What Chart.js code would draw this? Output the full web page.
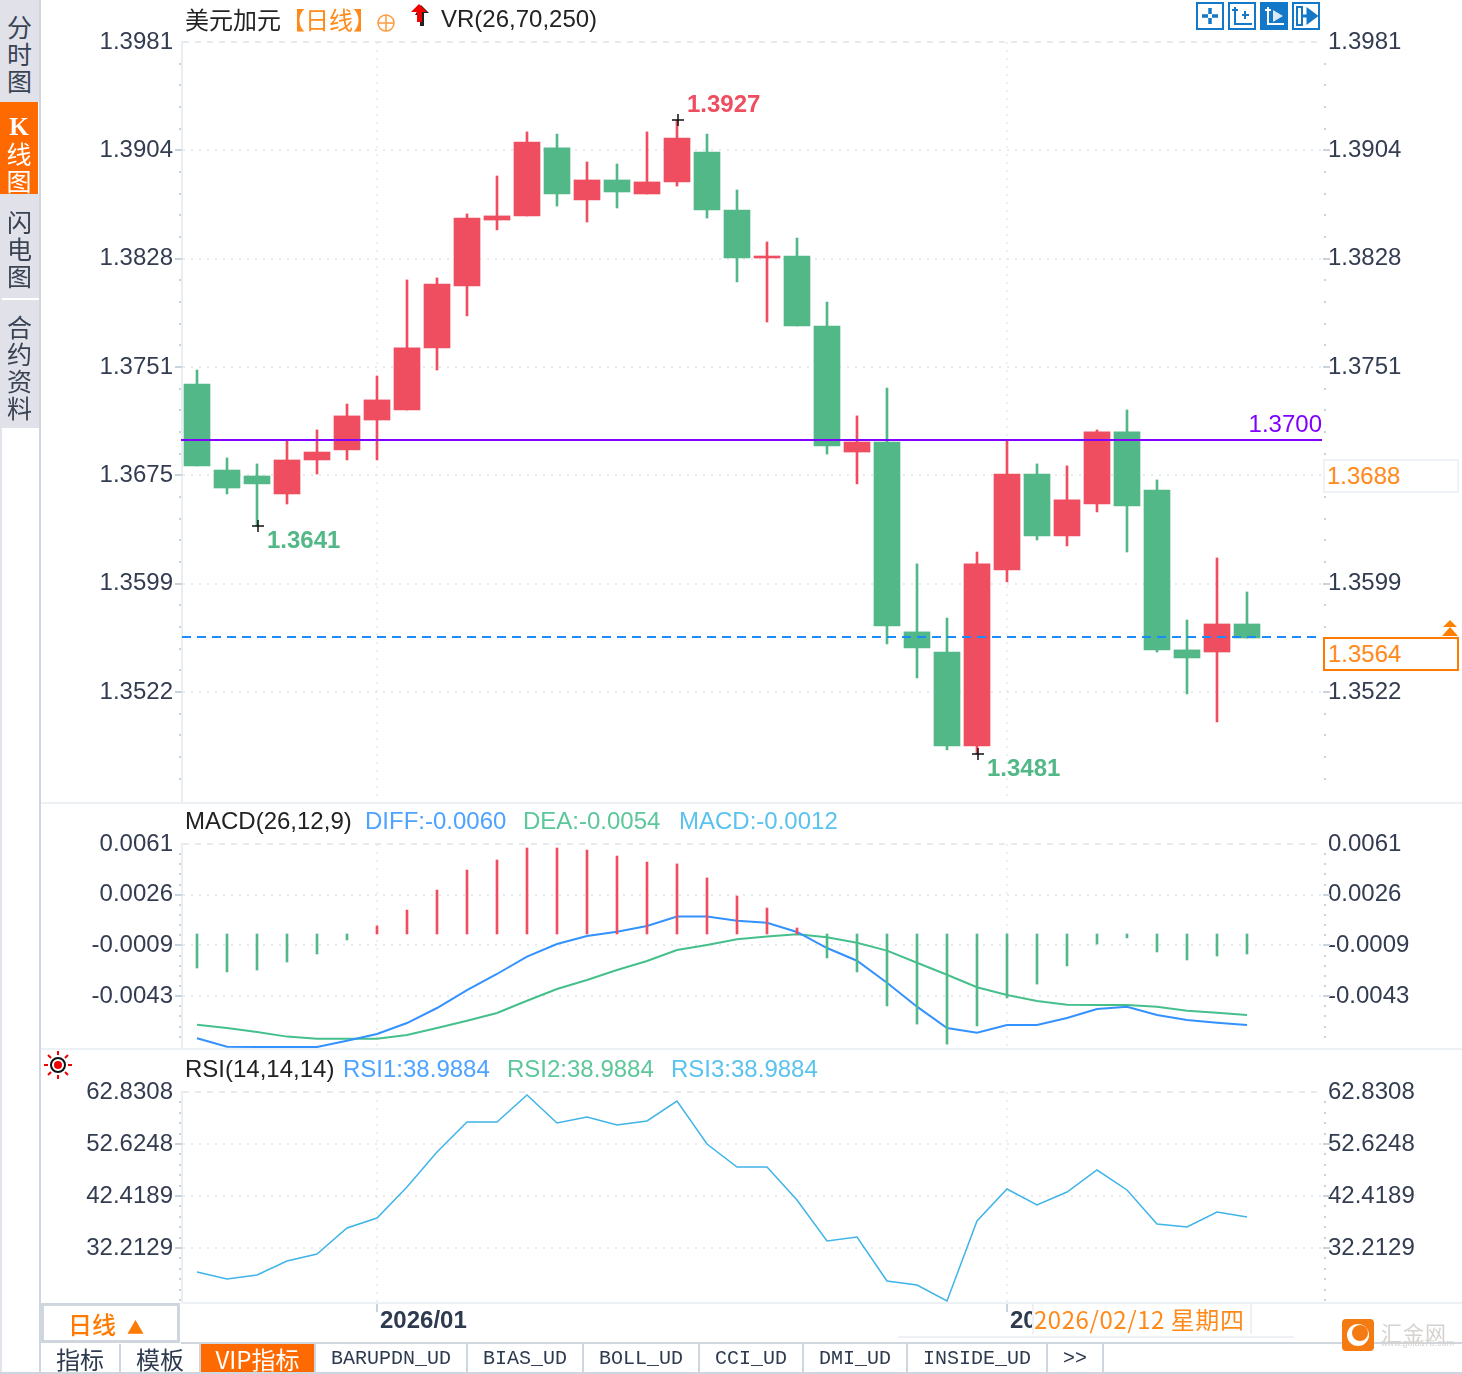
<!DOCTYPE html>
<html>
<head>
<meta charset="utf-8">
<script src="https://cdn.jsdelivr.net/npm/chart.js@4"></script>
<style>
html, body { margin: 0; padding: 0; background: #fff; }
#page { position: relative; width: 1462px; height: 1374px; overflow: hidden; font-family: "Liberation Sans", Arial, sans-serif; font-size: 24px; color: #222; }
canvas { position: absolute; left: 0; }
.t { position: absolute; white-space: nowrap; line-height: 28px; }
.cjk { font-family: "Noto Sans CJK SC", sans-serif; }
.line { position: absolute; background: #edf1f5; }
.side { position: absolute; left: 0; width: 39px; background: #e0e1e9; color: #3a4354; font-family: "Noto Sans CJK SC", sans-serif; font-size: 25px; line-height: 27px; text-align: center; padding-left: 0; box-sizing: border-box; }
.tab { position: absolute; top: 1344px; height: 30px; line-height: 29px; text-align: center; border-right: 2px solid #cfd6dd; box-sizing: border-box; color: #2d3a4f; font-family: "Liberation Mono", monospace; font-size: 20px; }
.tab.cn { font-family: "Noto Sans CJK SC", sans-serif; font-size: 24px; }
svg { position: absolute; overflow: visible; }
</style>
</head>
<body>
<div id="page">
  <canvas id="main" width="1462" height="802" style="top:0"></canvas>
  <canvas id="macd" width="1462" height="245" style="top:803px"></canvas>
  <canvas id="rsi" width="1462" height="293" style="top:1049px"></canvas>

  <div class="line" style="left:40px;top:802px;width:1422px;height:2px"></div>
  <div class="line" style="left:40px;top:1048px;width:1422px;height:2px"></div>
  <div class="line" style="left:181px;top:1302px;width:1281px;height:2px"></div>

  <!-- left tabs -->
  <div class="line" style="left:0;top:0;width:2px;height:1374px;background:#dfe4ea"></div>
  <div class="line" style="left:39px;top:0;width:2px;height:1374px;background:#cfd6dd"></div>
  <div class="side" style="top:0;height:102px;padding-top:13px">分<br>时<br>图</div>
  <div class="side" style="top:102px;height:92px;width:38px;background:#ff6a00;color:#fff;padding-top:9px"><span style="font-family:'Liberation Serif',serif;font-weight:bold">K</span><br>线<br>图</div>
  <div class="side" style="top:194px;height:104px;padding-top:14px">闪<br>电<br>图</div>
  <div class="side" style="top:300px;height:128px;padding-top:13px">合<br>约<br>资<br>料</div>

  <!-- main panel header -->
  <div class="t cjk" style="left:185px;top:5px">美元加元<span style="color:#ff8a1a">【日线】</span></div>
  <svg style="left:376px;top:13px" width="20" height="20"><circle cx="10" cy="10" r="8" fill="none" stroke="#ff9a3c" stroke-width="1.5"/><path d="M2 10H18M10 2V18" stroke="#ff9a3c" stroke-width="1.5"/></svg>
  <svg style="left:408px;top:2px" width="24" height="26"><path d="M13 3L21 11H16V24H12V13H7Z" fill="#222"/><path d="M11 2L19 10H14V20H9V10H3Z" fill="#f00000"/></svg>
  <div class="t" style="left:441px;top:5px">VR(26,70,250)</div>

  <!-- toolbar buttons -->
  <svg style="left:1196px;top:2px" width="28" height="28"><rect x="1" y="1" width="26" height="26" fill="#fff" stroke="#1478c8" stroke-width="2"/><path d="M14 6V12M14 16V22M6 14H12M16 14H22" stroke="#1478c8" stroke-width="3.5"/></svg>
  <svg style="left:1228px;top:2px" width="28" height="28"><rect x="1" y="1" width="26" height="26" fill="#fff" stroke="#1478c8" stroke-width="2"/><path d="M7 5V22H24M4 8H10M14 13H21M17 9V17" stroke="#1478c8" stroke-width="2" fill="none"/></svg>
  <svg style="left:1260px;top:2px" width="28" height="28"><rect x="0" y="0" width="28" height="28" fill="#1478c8"/><path d="M8 5V22H24M5 8H11" stroke="#fff" stroke-width="2" fill="none"/><path d="M13 8L23 14L13 20Z" fill="#dbe9f5"/></svg>
  <svg style="left:1292px;top:2px" width="28" height="28"><rect x="1" y="1" width="26" height="26" fill="#fff" stroke="#1478c8" stroke-width="2"/><path d="M5 5H10V23H5Z" fill="none" stroke="#1478c8" stroke-width="2"/><path d="M9 14H18M16 8L24 14L16 20Z" stroke="#1478c8" stroke-width="3" fill="#1478c8"/></svg>

  <!-- right side price boxes -->
  <div class="t" style="left:1323px;top:459px;width:136px;height:34px;box-sizing:border-box;background:#fff;border:2px solid #eef1f5;padding-left:2px;line-height:30px;color:#ff8a1a">1.3688</div>
  <div class="t" style="left:1323px;top:637px;width:136px;height:34px;box-sizing:border-box;background:#fff;border:2px solid #ff7a00;padding-left:3px;line-height:30px;color:#ff8a1a">1.3564</div>
  <svg style="left:1442px;top:620px" width="16" height="16"><path d="M8 0L15 7H1ZM8 7L16 16H0Z" fill="#ff8000"/></svg>

  <!-- macd / rsi headers -->
  <div class="t" style="left:185px;top:807px">MACD(26,12,9)</div>
  <div class="t" style="left:365px;top:807px;color:#4da3ff">DIFF:-0.0060</div>
  <div class="t" style="left:523px;top:807px;color:#5cc79a">DEA:-0.0054</div>
  <div class="t" style="left:679px;top:807px;color:#59c3ee">MACD:-0.0012</div>
  <svg style="left:44px;top:1051px" width="28" height="28"><g stroke="#f00000" stroke-width="2"><path d="M14 0V4M14 24V28M0 14H4M24 14H28M4 4L7 7M21 21L24 24M24 4L21 7M4 24L7 21"/></g><circle cx="14" cy="14" r="7" fill="#fff" stroke="#111" stroke-width="2"/><circle cx="14" cy="14" r="4" fill="#f00000"/></svg>
  <div class="t" style="left:185px;top:1055px">RSI(14,14,14)</div>
  <div class="t" style="left:343px;top:1055px;color:#4da3ff">RSI1:38.9884</div>
  <div class="t" style="left:507px;top:1055px;color:#5cc79a">RSI2:38.9884</div>
  <div class="t" style="left:671px;top:1055px;color:#59c3ee">RSI3:38.9884</div>

  <!-- bottom bar -->
  <div class="t cjk" style="left:41px;top:1303px;width:139px;height:40px;box-sizing:border-box;border:3px solid #cfd6dd;padding-left:24px;line-height:36px;color:#ff7a00;font-weight:500">日线<span style="font-size:17px;margin-left:11px">▲</span></div>
  <div class="line" style="left:181px;top:1342px;width:1281px;height:2px;background:#cfd6dd"></div>
  <div class="t cjk" style="left:1032px;top:1304px;width:220px;height:30px;box-sizing:border-box;background:#fff;border-left:2px solid #edf1f5;border-right:2px solid #edf1f5;line-height:30px;letter-spacing:.55px;color:#ff8a1a">2026/02/12 星期四</div>
  <div class="line" style="left:898px;top:1336px;width:396px;height:2px"></div>

  <div class="tab cn" style="left:41px;width:80px">指标</div>
  <div class="tab cn" style="left:121px;width:80px">模板</div>
  <div class="tab cn" style="left:201px;width:115px;background:#ff6a00;color:#fff">VIP指标</div>
  <div class="tab" style="left:316px;width:152px">BARUPDN_UD</div>
  <div class="tab" style="left:468px;width:116px">BIAS_UD</div>
  <div class="tab" style="left:584px;width:116px">BOLL_UD</div>
  <div class="tab" style="left:700px;width:104px">CCI_UD</div>
  <div class="tab" style="left:804px;width:104px">DMI_UD</div>
  <div class="tab" style="left:908px;width:140px">INSIDE_UD</div>
  <div class="tab" style="left:1048px;width:56px">&gt;&gt;</div>
  <div class="line" style="left:0;top:1372px;width:1462px;height:2px;background:#cfd6dd"></div>

  <!-- watermark -->
  <svg style="left:1342px;top:1319px" width="32" height="32"><rect width="32" height="32" rx="4" fill="#f47a12"/><circle cx="16" cy="16" r="11" fill="#fff"/><circle cx="18" cy="14" r="8" fill="#f47a12"/></svg>
  <div class="t cjk" style="left:1381px;top:1318px;font-size:21px;color:#d5d2cf;letter-spacing:1px">汇金网</div>
  <div class="t" style="left:1381px;top:1337px;font-size:9px;line-height:12px;color:#d5d2cf">www.gold678.com</div>
</div>

<script>
// trading days, last one is 2026/02/12
var dates = ['2025/12/24','2025/12/25','2025/12/26','2025/12/29','2025/12/30','2025/12/31',
  '2026/01/02','2026/01/05','2026/01/06','2026/01/07','2026/01/08','2026/01/09','2026/01/12','2026/01/13','2026/01/14','2026/01/15','2026/01/16',
  '2026/01/19','2026/01/20','2026/01/21','2026/01/22','2026/01/23','2026/01/26','2026/01/27','2026/01/28','2026/01/29','2026/01/30',
  '2026/02/02','2026/02/03','2026/02/04','2026/02/05','2026/02/06','2026/02/09','2026/02/10','2026/02/11','2026/02/12'];
var emptySlots = ['', ''];
var monthIndex = [6, 27];
var monthLabels = ['2026/01', '2026/02'];

var open = [1.37395,1.36788,1.36746,1.36619,1.36859,1.3693,1.37141,1.37212,1.3765,1.38087,1.38553,1.38582,1.39062,1.38695,1.38836,1.38737,1.38822,1.39033,1.38624,1.38285,1.38299,1.37805,1.36915,1.36986,1.35645,1.35503,1.3484,1.36082,1.3676,1.36322,1.36548,1.37057,1.36647,1.35518,1.35503,1.35701];
var close = [1.36817,1.36661,1.3669,1.36859,1.36915,1.3717,1.37283,1.3765,1.38101,1.38567,1.38582,1.39104,1.38737,1.38836,1.38751,1.38822,1.39132,1.38624,1.38285,1.38299,1.37805,1.36958,1.36986,1.35687,1.35532,1.3484,1.36125,1.3676,1.36322,1.36577,1.37057,1.36534,1.35518,1.35461,1.35701,1.35602];
var high = [1.37494,1.36873,1.36831,1.37,1.37071,1.37254,1.37452,1.3813,1.38144,1.38596,1.38864,1.39175,1.3916,1.38963,1.38949,1.39175,1.39259,1.3916,1.38765,1.38398,1.38426,1.37974,1.3717,1.37367,1.36125,1.35743,1.36209,1.37,1.36831,1.36817,1.37071,1.37212,1.36718,1.35729,1.36167,1.35927];
var low = [1.36817,1.36619,1.36393,1.36548,1.3676,1.36859,1.36859,1.37212,1.37494,1.37876,1.38483,1.38582,1.38652,1.38539,1.38638,1.38737,1.38793,1.38567,1.38116,1.37833,1.37805,1.36901,1.3669,1.3556,1.3532,1.34812,1.34783,1.35998,1.36294,1.36252,1.36492,1.36209,1.35503,1.35207,1.35009,1.35602];

var priceTicks = [1.3981,1.39045,1.3828,1.37515,1.3675,1.35985,1.3522];
var priceLabels = ['1.3981','1.3904','1.3828','1.3751','1.3675','1.3599','1.3522'];
var resistance = 1.37;
var lastPrice = 1.35609;
var markIndex = [16, 2, 26];
var markLabels = ['1.3927', '1.3641', '1.3481'];

var hist = [-.00233,-.0026,-.00247,-.00192,-.00137,-.00041,.00055,.00164,.00301,.00438,.00507,.00589,.00589,.00575,.00534,.00493,.0048,.00384,.0026,.00178,.00041,-.00164,-.0026,-.00493,-.00617,-.00754,-.0063,-.00438,-.00343,-.00219,-.00069,-.00027,-.00123,-.00178,-.00151,-.00137];
var diff = [-.00714,-.00772,-.00774,-.00774,-.00774,-.00731,-.00685,-.0061,-.00507,-.00384,-.00274,-.00155,-.00069,-.00014,.00016,.00055,.00119,.00119,.00091,.00077,.00014,-.00096,-.00183,-.00334,-.00498,-.00644,-.00676,-.00623,-.00623,-.00575,-.00514,-.00498,-.00555,-.00589,-.00608,-.00623];
var dea = [-.00621,-.00644,-.00671,-.00703,-.00717,-.00717,-.00717,-.00692,-.00644,-.00594,-.00541,-.00457,-.00377,-.00315,-.00247,-.00185,-.0011,-.00075,-.00036,-.00018,-.00002,-.00023,-.0006,-.00114,-.00197,-.00279,-.00365,-.00418,-.00459,-.00484,-.00486,-.00486,-.00498,-.00525,-.00539,-.00555];
var macdTicks = [.006165,.00269,-.00078,-.00425];
var macdLabels = ['0.0061','0.0026','-0.0009','-0.0043'];

var rsi1 = [27.5,26.13,26.91,29.66,31.03,36.14,38.1,44.18,51.05,56.94,56.94,62.24,56.75,57.92,56.35,57.14,61.06,52.62,48.11,48.11,41.63,33.59,34.37,25.74,24.95,21.81,37.51,43.79,40.65,43.2,47.52,43.6,36.92,36.33,39.28,38.3];
var rsiTicks = [62.8308,52.6248,42.4189,32.2129];
var rsiLabels = ['62.8308','52.6248','42.4189','32.2129'];

var RED = '#ee4e5f', GREEN = '#53b887', AXIS = '#c9d3dc', GRID = '#e6eaee', TEXT = '#333c50';
var FONT = '"Liberation Sans", Arial, sans-serif';
var xLabels = dates.concat(emptySlots);

function yAxis(position, ticks, labels, min, max) {
    var left = position === 'left';
    return {
        position: position,
        min: min,
        max: max,
        afterBuildTicks: function (scale) { scale.ticks = ticks.map(function (v) { return { value: v }; }); },
        afterFit: function (scale) {
            scale.width = left ? 182 : 140;
            // labels must not shrink the plot area
            scale.paddingTop = 0;
            scale.paddingBottom = 0;
        },
        border: {
            display: left,
            color: '#e8eef2',
            width: 2,
            dash: function (ctx) { return ctx.index === 0 ? [6, 6] : [2, 6]; }
        },
        grid: { display: left, color: GRID, drawTicks: false, lineWidth: 2 },
        ticks: {
            padding: left ? 9 : 6,
            color: TEXT,
            font: { family: FONT, size: 24 },
            autoSkip: false,
            maxRotation: 0,
            callback: function (v, i) { return labels[i]; }
        }
    };
}

function xAxis(withLabels) {
    return {
        type: 'category',
        labels: xLabels,
        offset: true,
        border: { display: false, dash: [2, 6] },
        afterFit: function (scale) { scale.height = withLabels ? 40 : 0; },
        grid: {
            offset: false,
            lineWidth: 2,
            drawTicks: withLabels,
            tickLength: 10,
            color: function (ctx) { return monthIndex.indexOf(ctx.index) >= 0 ? '#eceff2' : 'rgba(0,0,0,0)'; },
            tickColor: function (ctx) { return monthIndex.indexOf(ctx.index) >= 0 ? AXIS : 'rgba(0,0,0,0)'; }
        },
        ticks: {
            display: withLabels,
            autoSkip: false,
            maxRotation: 0,
            align: 'start',
            labelOffset: 3,
            padding: -5,
            color: '#2d3a4f',
            font: { family: FONT, size: 24, weight: 'bold' },
            callback: function (v, i) { var k = monthIndex.indexOf(i); return k >= 0 ? monthLabels[k] : ''; }
        }
    };
}

// little dots and ticks along both price axes
var axisDots = {
    id: 'axisDots',
    afterDraw: function (chart) {
        var y = chart.scales.y, ctx = chart.ctx, area = chart.chartArea;
        var step = (y.getPixelForValue(y.ticks[1].value) - y.getPixelForValue(y.ticks[0].value)) / 5;
        ctx.save();
        ctx.fillStyle = AXIS;
        var n = 0;
        for (var p = y.getPixelForValue(y.ticks[0].value); p < area.bottom - 2; p += step, n++) {
            if (n === 0) continue;
            if (n % 5 === 0 && n / 5 < y.ticks.length) {
                ctx.fillRect(area.left - 7, Math.round(p) - 1, 7, 2);
                ctx.fillRect(area.right + 1, Math.round(p) - 1, 7, 2);
            } else {
                ctx.fillRect(area.left - 3, Math.round(p) - 1, 2, 2);
                ctx.fillRect(area.right + 2, Math.round(p) - 1, 2, 2);
            }
        }
        ctx.restore();
    }
};

// horizontal price lines and the high/low marks
var priceMarks = {
    id: 'priceMarks',
    afterDatasetsDraw: function (chart) {
        var y = chart.scales.y, x = chart.scales.x, ctx = chart.ctx, area = chart.chartArea;
        ctx.save();
        var py = Math.round(y.getPixelForValue(resistance));
        ctx.strokeStyle = '#8000ff';
        ctx.lineWidth = 2;
        ctx.beginPath(); ctx.moveTo(area.left - 1, py); ctx.lineTo(area.right, py); ctx.stroke();
        ctx.fillStyle = '#8000ff';
        ctx.font = '24px ' + FONT;
        ctx.textAlign = 'right';
        ctx.textBaseline = 'middle';
        ctx.fillText('1.3700', area.right, py - 15);

        py = Math.round(y.getPixelForValue(lastPrice));
        ctx.strokeStyle = '#1a8cff';
        ctx.setLineDash([9, 6]);
        ctx.beginPath(); ctx.moveTo(area.left, py); ctx.lineTo(area.right, py); ctx.stroke();
        ctx.setLineDash([]);

        ctx.textAlign = 'left';
        ctx.lineWidth = 1.5;
        ctx.font = 'bold 24px ' + FONT;
        markIndex.forEach(function (idx, k) {
            var isHigh = k === 0;
            var mx = x.getPixelForValue(idx) + 1;
            var my = y.getPixelForValue(isHigh ? high[idx] : low[idx]);
            ctx.strokeStyle = '#111';
            ctx.beginPath();
            ctx.moveTo(mx - 6, my); ctx.lineTo(mx + 6, my);
            ctx.moveTo(mx, my - 6); ctx.lineTo(mx, my + 6);
            ctx.stroke();
            ctx.fillStyle = isHigh ? RED : GREEN;
            ctx.fillText(markLabels[k], mx + 9, my + (isHigh ? -15 : 15));
        });
        ctx.restore();
    }
};

var candleColors = close.map(function (c, i) { return c >= open[i] ? RED : GREEN; });

new Chart(document.getElementById('main'), {
    type: 'bar',
    data: {
        labels: xLabels,
        datasets: [
            {
                label: 'body',
                data: open.map(function (o, i) { return [o, close[i]]; }),
                backgroundColor: candleColors,
                barThickness: 26,
                grouped: false,
                borderSkipped: false
            },
            {
                label: 'wick',
                data: low.map(function (l, i) { return [l, high[i]]; }),
                backgroundColor: candleColors,
                barThickness: 2,
                grouped: false,
                borderSkipped: false
            }
        ]
    },
    options: {
        responsive: false,
        animation: false,
        devicePixelRatio: 1,
        layout: { padding: { top: 42 } },
        plugins: { legend: { display: false }, tooltip: { enabled: false } },
        scales: {
            x: xAxis(false),
            y: yAxis('left', priceTicks, priceLabels, 1.34444, 1.3981),
            yRight: yAxis('right', priceTicks, priceLabels, 1.34444, 1.3981)
        }
    },
    plugins: [axisDots, priceMarks]
});

new Chart(document.getElementById('macd'), {
    data: {
        labels: xLabels,
        datasets: [
            {
                type: 'bar',
                label: 'MACD',
                data: hist,
                backgroundColor: hist.map(function (v) { return v >= 0 ? RED : GREEN; }),
                barThickness: 2
            },
            { type: 'line', label: 'DIFF', data: diff, borderColor: '#3392ff', borderWidth: 2, pointRadius: 0, tension: 0 },
            { type: 'line', label: 'DEA', data: dea, borderColor: '#45c08c', borderWidth: 2, pointRadius: 0, tension: 0 }
        ]
    },
    options: {
        responsive: false,
        animation: false,
        devicePixelRatio: 1,
        layout: { padding: { top: 41 } },
        plugins: { legend: { display: false }, tooltip: { enabled: false } },
        scales: {
            x: xAxis(false),
            y: yAxis('left', macdTicks, macdLabels, -.00781, .006165),
            yRight: yAxis('right', macdTicks, macdLabels, -.00781, .006165)
        }
    },
    plugins: [axisDots]
});

new Chart(document.getElementById('rsi'), {
    type: 'line',
    data: {
        labels: xLabels,
        datasets: [{ label: 'RSI1', data: rsi1, borderColor: '#3fb4e8', borderWidth: 1.5, pointRadius: 0, tension: 0, clip: false }]
    },
    options: {
        responsive: false,
        animation: false,
        devicePixelRatio: 1,
        layout: { padding: { top: 43 } },
        plugins: { legend: { display: false }, tooltip: { enabled: false } },
        scales: {
            x: xAxis(true),
            y: yAxis('left', rsiTicks, rsiLabels, 21.61, 62.8308),
            yRight: yAxis('right', rsiTicks, rsiLabels, 21.61, 62.8308)
        }
    },
    plugins: [axisDots]
});
</script>
</body>
</html>
